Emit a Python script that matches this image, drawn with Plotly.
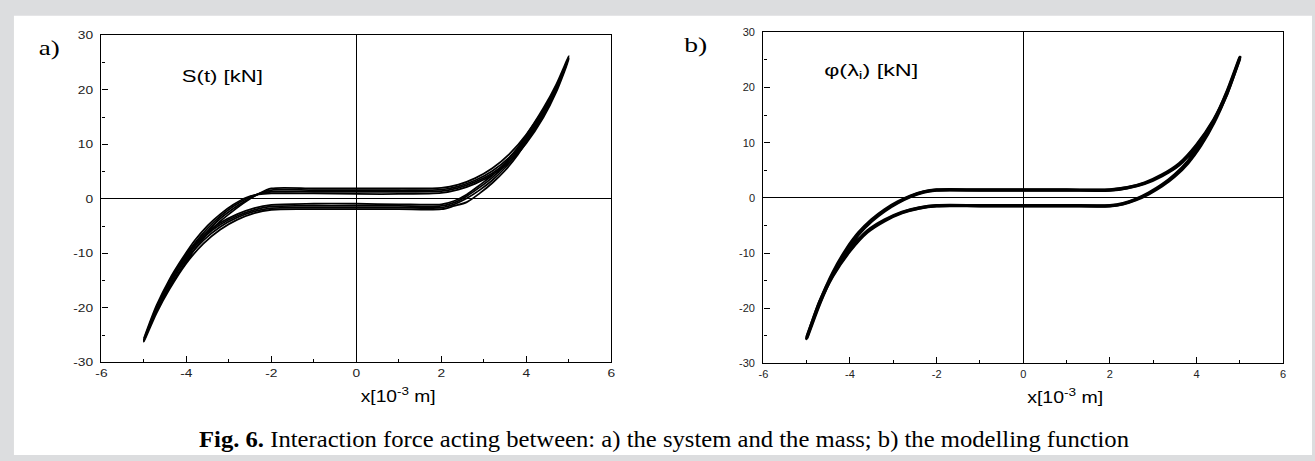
import plotly.graph_objects as go

W, H = 1315, 461

# ---------------- data ----------------
# x positions of the sampled points along the "upper" branch (left -> right)
x_upper = [-5.0, -4.7, -4.4, -4.1, -3.8, -3.5, -3.2, -2.9, -2.6, -2.3, -2.0,
           -1.0, 0.0, 1.0, 2.0, 2.4, 2.8, 3.2, 3.6, 4.0, 4.4, 4.7, 5.0]
# x positions along the "lower" branch (right -> left)
x_lower = [5.0, 4.7, 4.4, 4.1, 3.8, 3.5, 3.2, 2.9, 2.6, 2.3, 2.0,
           1.0, 0.0, -1.0, -2.0, -2.4, -2.8, -3.2, -3.6, -4.0, -4.4, -4.7, -5.0]

# panel a) S(t) [kN] - several loops
a1_upper = [-26.2, -20.6, -16.2, -12.6, -9.2, -6.4, -4.1, -2.2, -0.5, 0.9, 1.9,
            1.9, 1.9, 1.9, 2.0, 2.6, 3.8, 5.6, 8.2, 11.8, 16.6, 20.9, 26.2]
a1_lower = [26.2, 19.9, 15.3, 11.6, 8.1, 5.2, 2.9, 1.0, -0.6, -1.3, -1.9,
            -1.9, -1.9, -1.9, -2.0, -2.6, -3.8, -5.6, -8.2, -11.8, -16.6, -20.9, -26.2]
a2_upper = [-26.0, -20.2, -15.7, -12.0, -8.6, -5.9, -3.6, -1.8, -0.3, 0.9, 1.6,
            1.6, 1.6, 1.6, 1.7, 2.3, 3.4, 5.1, 7.6, 11.1, 15.8, 20.3, 26.0]
a2_lower = [26.0, 20.1, 15.6, 11.9, 8.5, 5.7, 3.4, 1.6, 0.1, -1.0, -1.6,
            -1.6, -1.6, -1.6, -1.7, -2.3, -3.4, -5.1, -7.6, -11.1, -15.8, -20.3, -26.0]
a3_upper = [-25.8, -19.8, -15.2, -11.5, -8.1, -5.4, -3.2, -1.4, 0.0, 0.9, 1.3,
            1.3, 1.3, 1.3, 1.4, 2.0, 3.1, 4.7, 7.1, 10.6, 15.3, 19.9, 25.8]
a3_lower = [25.8, 20.3, 16.0, 12.4, 9.0, 6.2, 3.9, 2.1, 0.5, -0.7, -1.3,
            -1.3, -1.3, -1.3, -1.4, -2.0, -3.1, -4.7, -7.1, -10.6, -15.3, -19.9, -25.8]
a4_upper = [-25.6, -19.5, -14.8, -11.0, -7.6, -4.9, -2.8, -1.1, 0.2, 0.8, 1.0,
            1.0, 0.9, 0.9, 1.1, 1.7, 2.8, 4.4, 6.7, 10.2, 14.9, 19.5, 25.6]
a4_lower = [25.6, 20.5, 16.3, 12.8, 9.4, 6.6, 4.3, 2.5, 0.8, -0.4, -1.0,
            -1.0, -0.9, -0.9, -1.1, -1.7, -2.8, -4.4, -6.7, -10.2, -14.9, -19.5, -25.6]

# panel b) phi(lambda_i) [kN] - modelling function, two close loops
b1_upper = [-25.5, -19.2, -13.9, -9.8, -6.6, -4.2, -2.35, -0.9, 0.25, 1.05, 1.4,
            1.4, 1.4, 1.4, 1.4, 1.8, 2.6, 4.0, 6.0, 9.4, 14.0, 18.8, 25.5]
b1_lower = [25.5, 19.2, 13.9, 9.8, 6.6, 4.2, 2.35, 0.9, -0.25, -1.05, -1.4,
            -1.4, -1.4, -1.4, -1.4, -1.8, -2.6, -4.0, -6.0, -9.4, -14.0, -18.8, -25.5]
b2_upper = [-25.3, -18.9, -13.6, -9.5, -6.3, -3.95, -2.15, -0.75, 0.35, 1.1, 1.45,
            1.45, 1.45, 1.45, 1.45, 1.85, 2.7, 4.15, 6.2, 9.6, 14.2, 19.0, 25.3]
b2_lower = [25.3, 18.9, 13.6, 9.5, 6.3, 3.95, 2.15, 0.75, -0.35, -1.1, -1.45,
            -1.45, -1.45, -1.45, -1.45, -1.85, -2.7, -4.15, -6.2, -9.6, -14.2, -19.0, -25.3]

loops_a = [(a1_upper, a1_lower), (a2_upper, a2_lower), (a3_upper, a3_lower), (a4_upper, a4_lower)]
loops_b = [(b1_upper, b1_lower), (b2_upper, b2_lower)]

x_ticks = [-6, -4, -2, 0, 2, 4, 6]
x_tick_text = ["-6", "-4", "-2", "0", "2", "4", "6"]
y_ticks = [-30, -20, -10, 0, 10, 20, 30]
y_tick_text = ["-30", "-20", "-10", "0", "10", "20", "30"]

caption_bold = "Fig. 6."
caption_text = " Interaction force acting between: a) the system and the mass; b) the modelling function"
label_a = "S(t) [kN]"
label_b = "φ(λ<sub>i</sub>) [kN]"
x_title = "x[10<sup>-3</sup> m]"

# ---------------- figure ----------------
def px(x):
    return x / W

def py(y):
    return 1 - y / H

fig = go.Figure()

for up, lo in loops_a:
    fig.add_trace(go.Scatter(
        x=x_upper + x_lower[1:], y=up + lo[1:], mode="lines",
        line=dict(color="black", width=1.8, shape="spline", smoothing=0.8),
        xaxis="x", yaxis="y", showlegend=False, hoverinfo="skip"))

for up, lo in loops_b:
    fig.add_trace(go.Scatter(
        x=x_upper + x_lower[1:], y=up + lo[1:], mode="lines",
        line=dict(color="black", width=3.2, shape="spline", smoothing=0.8),
        xaxis="x2", yaxis="y2", showlegend=False, hoverinfo="skip"))

tickfont = dict(family="Liberation Sans, Arial, sans-serif", size=11, color="#222")

def xax(domain, anchor):
    return dict(domain=domain, anchor=anchor, range=[-6, 6],
                tickvals=x_ticks, ticktext=x_tick_text,
                ticks="inside", ticklen=6, tickwidth=1, tickcolor="black",
                minor=dict(dtick=1, ticks="inside", ticklen=3, tickcolor="black"),
                showline=True, mirror=True, linecolor="black", linewidth=1.3,
                zeroline=True, zerolinecolor="black", zerolinewidth=1,
                showgrid=False, tickfont=tickfont, fixedrange=True)

def yax(domain, anchor):
    return dict(domain=domain, anchor=anchor, range=[-30, 30],
                tickvals=y_ticks, ticktext=y_tick_text,
                ticks="inside", ticklen=6, tickwidth=1, tickcolor="black",
                minor=dict(dtick=5, ticks="inside", ticklen=3, tickcolor="black"),
                showline=True, mirror=True, linecolor="black", linewidth=1.3,
                zeroline=True, zerolinecolor="black", zerolinewidth=1,
                showgrid=False, tickfont=tickfont, fixedrange=True,
                ticklabelstandoff=5)

fig.update_layout(
    width=W, height=H,
    margin=dict(l=0, r=0, t=0, b=0),
    paper_bgcolor="#dcdddf",
    plot_bgcolor="white",
    xaxis=xax([px(97), px(610)], "y"),
    yaxis=yax([py(366), py(30)], "x"),
    xaxis2=xax([px(763), px(1286)], "y2"),
    yaxis2=yax([py(367), py(27)], "x2"),
    shapes=[dict(type="rect", xref="paper", yref="paper",
                 x0=px(9), x1=1, y0=0, y1=py(10),
                 fillcolor="white", line=dict(width=0), layer="below")],
)

serif = "Liberation Serif, Times New Roman, serif"
sans = "Liberation Sans, Arial, sans-serif"

# (text, centre x px, centre y px, family, size, target width px)
text_specs = [
    ("a)", 44, 43, serif, 21, 21),
    ("b)", 695, 40, serif, 21, 23),
    (label_a, 219, 72, sans, 16, 81),
    (label_b, 871, 67, sans, 16, 94),
    (x_title, 395, 399, sans, 16, 75),
    (x_title, 1066, 400, sans, 16, 76),
    ("<b>" + caption_bold + "</b>" + caption_text, 663, 445, serif, 23, 930),
]

annots = []
for txt, cx, cy, fam, size, _w in text_specs:
    annots.append(dict(text=txt, x=px(cx), y=py(cy), xref="paper", yref="paper",
                       xanchor="center", yanchor="middle", showarrow=False,
                       font=dict(family=fam, size=size, color="black")))
fig.update_layout(annotations=annots)

widths = ",".join(str(s[5]) for s in text_specs)
post = """
document.body.style.margin = '0';
var gd = document.querySelector('.js-plotly-plot');
var widths = [%s];
gd.querySelectorAll('g.annotation').forEach(function (g) {
  var i = parseInt(g.getAttribute('data-index'));
  var t = g.querySelector('text.annotation-text');
  if (t && !isNaN(i) && i < widths.length) {
    t.setAttribute('lengthAdjust', 'spacingAndGlyphs');
    t.setAttribute('textLength', widths[i]);
  }
});
gd.querySelectorAll('g.xtick text, g.ytick text').forEach(function (t) {
  var L = t.getComputedTextLength();
  t.setAttribute('lengthAdjust', 'spacingAndGlyphs');
  t.setAttribute('textLength', L * 1.25);
});
""" % widths

fig.write_html("out.html", post_script=post)
